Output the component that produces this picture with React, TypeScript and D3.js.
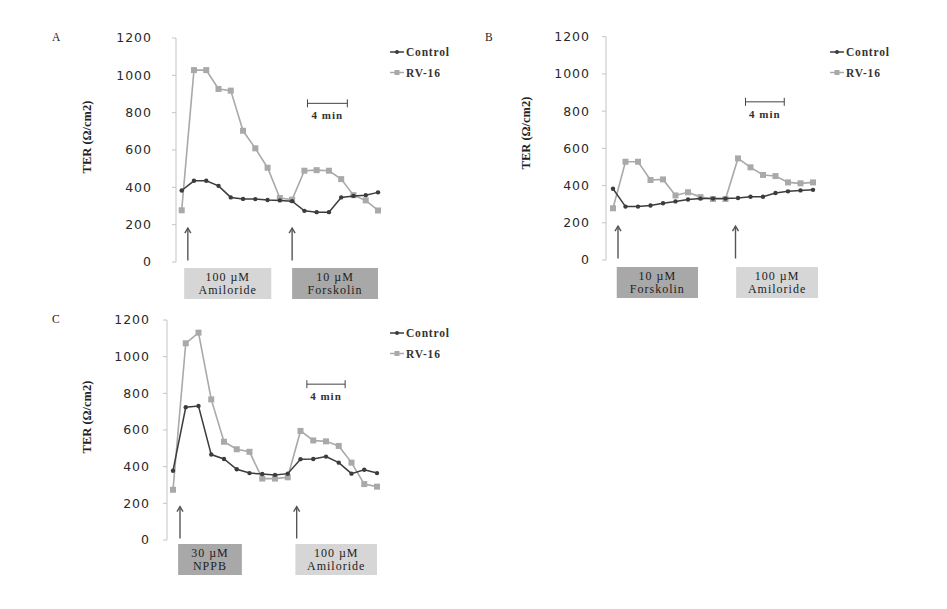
import React from "react";
import * as d3 from "d3";

// ---------- data ----------
const timeSteps = [0, 1, 2, 3, 4, 5, 6, 7, 8, 9, 10, 11, 12, 13, 14, 15, 16];
const yTicks = [0, 200, 400, 600, 800, 1000, 1200];
const seriesNames = ["Control", "RV-16"];

const controlA = [383, 435, 435, 408, 346, 338, 337, 332, 330, 326, 274, 267, 267, 346, 354, 358, 373];
const rv16A = [277, 1028, 1028, 927, 918, 703, 609, 505, 343, 334, 489, 492, 489, 444, 358, 330, 276];

const controlB = [383, 287, 287, 293, 305, 315, 325, 330, 330, 330, 333, 340, 340, 360, 369, 374, 377];
const rv16B = [278, 528, 528, 430, 433, 347, 364, 338, 328, 328, 546, 498, 457, 451, 417, 412, 417];

const controlC = [378, 724, 731, 466, 442, 386, 365, 360, 355, 362, 441, 442, 455, 422, 362, 383, 365];
const rv16C = [274, 1073, 1131, 767, 536, 495, 481, 335, 335, 342, 595, 543, 538, 513, 422, 305, 291];

const treatmentsA = [
  { l1: "100 µM", l2: "Amiloride", dark: false },
  { l1: "10 µM", l2: "Forskolin", dark: true },
];
const treatmentsB = [
  { l1: "10 µM", l2: "Forskolin", dark: true },
  { l1: "100 µM", l2: "Amiloride", dark: false },
];
const treatmentsC = [
  { l1: "30 µM", l2: "NPPB", dark: true },
  { l1: "100 µM", l2: "Amiloride", dark: false },
];
const scaleBarLabel = "4 min";
const yLabel = "TER (Ω/cm2)";

// ---------- layout per panel ----------
const panels = [
  {
    letter: "A", control: controlA, rv: rv16A, treatments: treatmentsA,
    axisX: 176, top: 38, bottom: 262, x0: 181.7, x1: 378, labelGap: 24,
    arrows: [0.5, 9.0], boxes: [[0.2, 7.3], [9.0, 16.0]], boxY: 268, boxH: 31,
    bar: [10.25, 13.5], legendX: 390, legendY: 52,
    ylabelX: 87, ylabelY: 137, letterX: 52, letterY: 41,
  },
  {
    letter: "B", control: controlB, rv: rv16B, treatments: treatmentsB,
    axisX: 606, top: 36.7, bottom: 260, x0: 613, x1: 813, labelGap: 16,
    arrows: [0.4, 9.8], boxes: [[0.3, 6.8], [9.85, 16.4]], boxY: 267, boxH: 31,
    bar: [10.6, 13.7], legendX: 830, legendY: 52,
    ylabelX: 526, ylabelY: 133, letterX: 485, letterY: 41,
  },
  {
    letter: "C", control: controlC, rv: rv16C, treatments: treatmentsC,
    axisX: 167, top: 320, bottom: 540, x0: 173, x1: 377, labelGap: 17,
    arrows: [0.55, 9.7], boxes: [[0.4, 5.4], [9.6, 16.0]], boxY: 544, boxH: 31,
    bar: [10.5, 13.5], legendX: 390, legendY: 333,
    ylabelX: 87, ylabelY: 417, letterX: 52, letterY: 323,
  },
];

const CTRL_COLOR = "#3c3c3c";
const RV_COLOR = "#a9a9a9";
const AXIS_COLOR = "#c4c4c4";
const SERIF = "'Liberation Serif', 'Times New Roman', serif";
const SANS = "'DejaVu Sans', Verdana, sans-serif";

function Panel({ p }: { p: any }) {
  const x = d3.scaleLinear().domain([timeSteps[0], timeSteps[timeSteps.length - 1]]).range([p.x0, p.x1]);
  const y = d3.scaleLinear().domain([0, 1200]).range([p.bottom, p.top]);
  const line = d3
    .line<number>()
    .x((_, i) => x(timeSteps[i]))
    .y((d) => y(d));

  const arrowTop = y(182);
  const arrowBottom = y(8);
  const barY = y(850);

  return (
    <g>
      {/* panel letter */}
      <text x={p.letterX} y={p.letterY} fontFamily={SERIF} fontSize={11.5} fill="#222">
        {p.letter}
      </text>
      {/* y axis */}
      <line x1={p.axisX} x2={p.axisX} y1={y(1200)} y2={y(0)} stroke={AXIS_COLOR} strokeWidth={1} />
      {yTicks.map((t) => (
        <g key={t}>
          <line x1={p.axisX - 4} x2={p.axisX} y1={y(t)} y2={y(t)} stroke={AXIS_COLOR} strokeWidth={1} />
          <text
            x={p.axisX - p.labelGap}
            y={y(t)}
            dy="0.35em"
            textAnchor="end"
            fontFamily={SANS}
            fontSize={12.5}
            letterSpacing={1}
            fill="#2a2a2a"
          >
            {t}
          </text>
        </g>
      ))}
      {/* y label */}
      <text
        transform={`translate(${p.ylabelX},${p.ylabelY}) rotate(-90)`}
        textAnchor="middle"
        dy="0.35em"
        fontFamily={SERIF}
        fontWeight="bold"
        fontSize={12.5}
        fill="#222"
      >
        {yLabel}
      </text>

      {/* series */}
      <path d={line(p.rv) || ""} fill="none" stroke={RV_COLOR} strokeWidth={1.6} />
      {p.rv.map((v: number, i: number) => (
        <rect key={"r" + i} x={x(timeSteps[i]) - 3} y={y(v) - 3} width={6} height={6} fill={RV_COLOR} />
      ))}
      <path d={line(p.control) || ""} fill="none" stroke={CTRL_COLOR} strokeWidth={1.5} />
      {p.control.map((v: number, i: number) => (
        <circle key={"c" + i} cx={x(timeSteps[i])} cy={y(v)} r={2.2} fill={CTRL_COLOR} />
      ))}

      {/* arrows */}
      {p.arrows.map((a: number, i: number) => (
        <g key={"a" + i} stroke="#555" strokeWidth={1.4} fill="none">
          <line x1={x(a)} x2={x(a)} y1={arrowTop} y2={arrowBottom} />
          <polyline points={`${x(a) - 3},${arrowTop + 5} ${x(a)},${arrowTop} ${x(a) + 3},${arrowTop + 5}`} />
        </g>
      ))}

      {/* treatment boxes */}
      {p.boxes.map((b: number[], i: number) => {
        const t = p.treatments[i];
        const bx = x(b[0]);
        const bw = x(b[1]) - x(b[0]);
        const cx = bx + bw / 2;
        return (
          <g key={"b" + i}>
            <rect x={bx} y={p.boxY} width={bw} height={p.boxH} fill={t.dark ? "#a8a8a8" : "#d6d6d6"} />
            <text x={cx} y={p.boxY + 13} textAnchor="middle" fontFamily={SERIF} fontSize={12} letterSpacing={1} fill="#222">
              {t.l1}
            </text>
            <text x={cx} y={p.boxY + 26} textAnchor="middle" fontFamily={SERIF} fontSize={12} letterSpacing={1} fill="#222">
              {t.l2}
            </text>
          </g>
        );
      })}

      {/* scale bar */}
      <g stroke="#444" strokeWidth={1}>
        <line x1={x(p.bar[0])} x2={x(p.bar[1])} y1={barY} y2={barY} />
        <line x1={x(p.bar[0])} x2={x(p.bar[0])} y1={barY - 4} y2={barY + 4} />
        <line x1={x(p.bar[1])} x2={x(p.bar[1])} y1={barY - 4} y2={barY + 4} />
      </g>
      <text
        x={(x(p.bar[0]) + x(p.bar[1])) / 2}
        y={barY + 16}
        textAnchor="middle"
        fontFamily={SERIF}
        fontWeight="bold"
        fontSize={11}
        letterSpacing={1}
        fill="#333"
      >
        {scaleBarLabel}
      </text>

      {/* legend */}
      {seriesNames.map((name, i) => {
        const ly = p.legendY + i * 20.5;
        const isCtrl = i === 0;
        return (
          <g key={name}>
            <line
              x1={p.legendX}
              x2={p.legendX + 14}
              y1={ly}
              y2={ly}
              stroke={isCtrl ? CTRL_COLOR : RV_COLOR}
              strokeWidth={1.5}
            />
            {isCtrl ? (
              <circle cx={p.legendX + 7} cy={ly} r={2} fill={CTRL_COLOR} />
            ) : (
              <rect x={p.legendX + 4.5} y={ly - 2.5} width={5} height={5} fill={RV_COLOR} />
            )}
            <text
              x={p.legendX + 16}
              y={ly}
              dy="0.35em"
              fontFamily={SERIF}
              fontWeight="bold"
              fontSize={11.5}
              letterSpacing={0.8}
              fill="#333"
            >
              {name}
            </text>
          </g>
        );
      })}
    </g>
  );
}

export default function App() {
  return (
    <svg
      width={947}
      height={609}
      style={{ position: "absolute", left: 0, top: 0, background: "#fff" }}
    >
      <rect x={0} y={0} width={947} height={609} fill="#fff" />
      {panels.map((p) => (
        <Panel key={p.letter} p={p} />
      ))}
    </svg>
  );
}
